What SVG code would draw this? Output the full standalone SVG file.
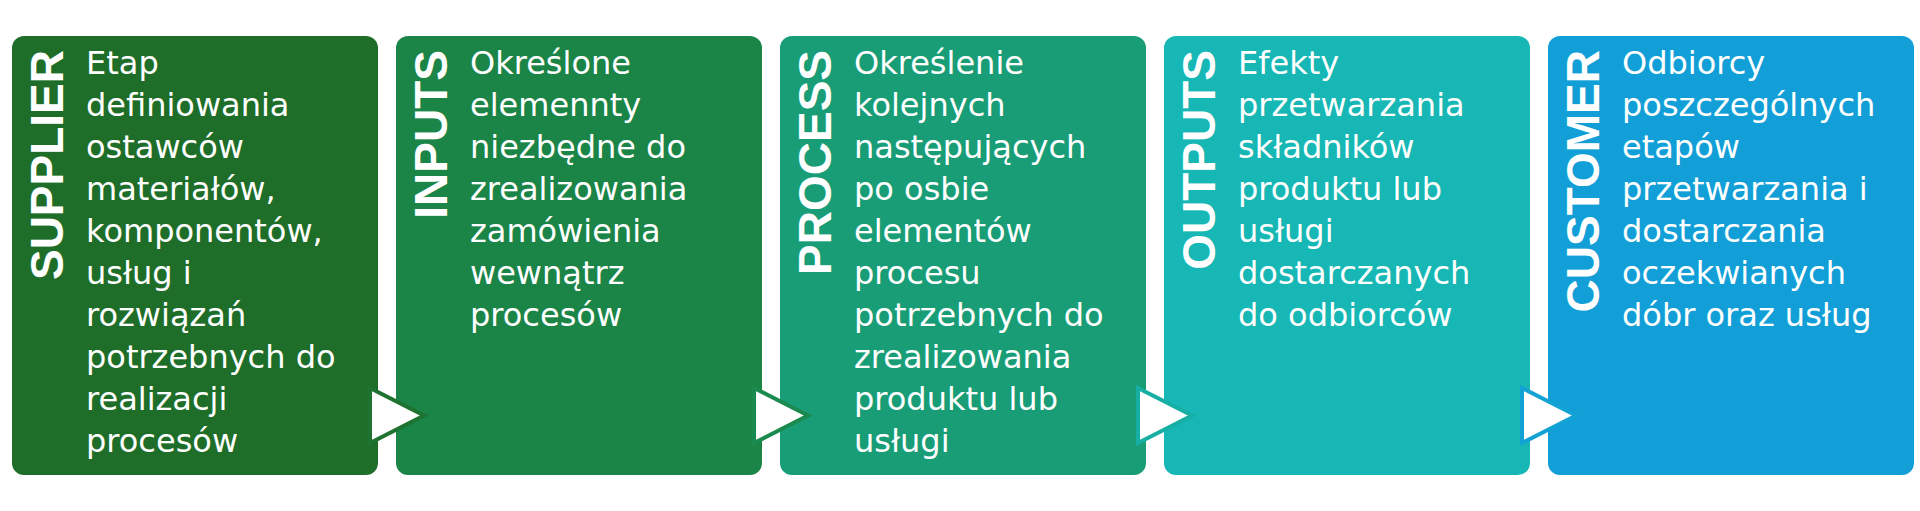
<svg xmlns="http://www.w3.org/2000/svg" width="1920" height="511" viewBox="0 0 1920 511">
<style>
.box{stroke:none}
.hdr{font-family:"Liberation Sans",Arial,sans-serif;font-weight:bold;font-size:46px;fill:#ffffff;text-anchor:end}
.body{font-family:"DejaVu Sans","Noto Sans",sans-serif;font-size:32px;fill:#ffffff}
.arr{fill:#ffffff;stroke-width:4;stroke-linejoin:miter}
</style>
<rect width="1920" height="511" fill="#ffffff"/>
<g id="node-supplier">
<rect class="box" x="12" y="36" width="366" height="439" rx="12" fill="#1E6E2A"/>
<text class="hdr" transform="translate(63,50) rotate(-90)">SUPPLIER</text>
<text class="body" x="86" y="74">Etap</text>
<text class="body" x="86" y="116">definiowania</text>
<text class="body" x="86" y="158">ostawców</text>
<text class="body" x="86" y="200">materiałów,</text>
<text class="body" x="86" y="242">komponentów,</text>
<text class="body" x="86" y="284">usług i</text>
<text class="body" x="86" y="326">rozwiązań</text>
<text class="body" x="86" y="368">potrzebnych do</text>
<text class="body" x="86" y="410">realizacji</text>
<text class="body" x="86" y="452">procesów</text>
</g>
<g id="node-inputs">
<rect class="box" x="396" y="36" width="366" height="439" rx="12" fill="#1B8447"/>
<text class="hdr" transform="translate(447,50) rotate(-90)">INPUTS</text>
<text class="body" x="470" y="74">Określone</text>
<text class="body" x="470" y="116">elemennty</text>
<text class="body" x="470" y="158">niezbędne do</text>
<text class="body" x="470" y="200">zrealizowania</text>
<text class="body" x="470" y="242">zamówienia</text>
<text class="body" x="470" y="284">wewnątrz</text>
<text class="body" x="470" y="326">procesów</text>
</g>
<g id="node-process">
<rect class="box" x="780" y="36" width="366" height="439" rx="12" fill="#189D77"/>
<text class="hdr" transform="translate(831,50) rotate(-90)">PROCESS</text>
<text class="body" x="854" y="74">Określenie</text>
<text class="body" x="854" y="116">kolejnych</text>
<text class="body" x="854" y="158">następujących</text>
<text class="body" x="854" y="200">po osbie</text>
<text class="body" x="854" y="242">elementów</text>
<text class="body" x="854" y="284">procesu</text>
<text class="body" x="854" y="326">potrzebnych do</text>
<text class="body" x="854" y="368">zrealizowania</text>
<text class="body" x="854" y="410">produktu lub</text>
<text class="body" x="854" y="452">usługi</text>
</g>
<g id="node-outputs">
<rect class="box" x="1164" y="36" width="366" height="439" rx="12" fill="#16B7B4"/>
<text class="hdr" transform="translate(1215,50) rotate(-90)">OUTPUTS</text>
<text class="body" x="1238" y="74">Efekty</text>
<text class="body" x="1238" y="116">przetwarzania</text>
<text class="body" x="1238" y="158">składników</text>
<text class="body" x="1238" y="200">produktu lub</text>
<text class="body" x="1238" y="242">usługi</text>
<text class="body" x="1238" y="284">dostarczanych</text>
<text class="body" x="1238" y="326">do odbiorców</text>
</g>
<g id="node-customer">
<rect class="box" x="1548" y="36" width="366" height="439" rx="12" fill="#129FD7"/>
<text class="hdr" transform="translate(1599,50) rotate(-90)">CUSTOMER</text>
<text class="body" x="1622" y="74">Odbiorcy</text>
<text class="body" x="1622" y="116">poszczególnych</text>
<text class="body" x="1622" y="158">etapów</text>
<text class="body" x="1622" y="200">przetwarzania i</text>
<text class="body" x="1622" y="242">dostarczania</text>
<text class="body" x="1622" y="284">oczekwianych</text>
<text class="body" x="1622" y="326">dóbr oraz usług</text>
</g>
<g id="connectors">
<polygon class="arr" points="370,388 424,415.5 370,443" stroke="#1F7330"/>
<polygon class="arr" points="754,388 808,415.5 754,443" stroke="#1B8A4E"/>
<polygon class="arr" points="1138,388 1192,415.5 1138,443" stroke="#17AFA4"/>
<polygon class="arr" points="1522,388 1576,415.5 1522,443" stroke="#13A2D4"/>
</g>
</svg>
